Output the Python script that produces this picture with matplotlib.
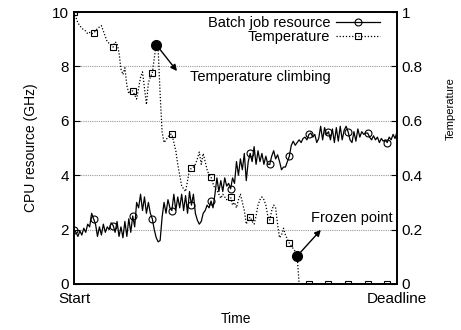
import matplotlib
matplotlib.use("Agg")
import matplotlib.pyplot as plt

plt.rcParams['font.family'] = ['Liberation Sans', 'DejaVu Sans']
plt.rcParams['font.size'] = 10.5

# batch job CPU resource (GHz), one sample per time step
batch = [2.0, 1.9, 1.75, 1.95, 1.8, 2.05, 1.9, 2.2, 2.1, 2.6,
         2.4, 2.2, 1.75, 2.1, 1.8, 2.2, 1.9, 2.1, 2.0, 2.25,
         2.15, 1.9, 2.3, 1.75, 2.1, 1.7, 2.3, 1.75, 2.4, 1.9,
         2.5, 2.1, 3.0, 2.8, 3.3, 2.7, 3.2, 2.6, 3.0, 2.6,
         2.4, 2.0, 1.7, 1.55, 1.6, 2.45, 3.0, 2.6, 3.1, 2.8,
         2.7, 3.3, 2.7, 3.2, 2.8, 3.3, 2.7, 3.25, 2.6, 3.4,
         2.9, 3.3, 2.6, 2.35, 2.2, 2.3, 2.6, 2.7, 2.9, 2.8,
         3.05, 2.8, 3.3, 3.9, 3.4, 3.8, 3.4, 3.9, 3.6, 3.7,
         3.5, 3.9, 3.7, 4.5, 4.0, 4.6, 4.2, 4.8, 3.8, 4.5,
         4.8, 4.5, 5.05, 4.4, 4.9, 4.5, 4.8, 4.4, 4.7, 4.4,
         4.4, 4.7, 4.9, 4.6, 4.75, 4.5, 4.2, 4.3, 4.3, 4.5,
         4.7, 5.1, 5.25, 5.1, 5.2, 5.3, 5.2, 5.35, 5.4, 5.3,
         5.5, 5.55, 5.4, 5.5, 5.2, 5.35, 5.8, 5.3, 5.75, 5.5,
         5.6, 5.3, 5.7, 5.2, 5.75, 5.25, 5.8, 5.3, 5.65, 5.8,
         5.6, 5.3, 5.2, 5.6, 5.25, 5.7, 5.4, 5.6, 5.5, 5.55,
         5.55, 5.4, 5.3, 5.45, 5.3, 5.4, 5.2, 5.35, 5.25, 5.3,
         5.2, 5.4, 5.3, 5.5, 5.35, 5.6]

# temperature (0..1)
temp = [1.0, 0.98, 0.96, 0.95, 0.94, 0.935, 0.93, 0.92, 0.925, 0.92,
        0.923, 0.93, 0.94, 0.945, 0.95, 0.93, 0.91, 0.89, 0.885, 0.88,
        0.871, 0.89, 0.885, 0.85, 0.79, 0.77, 0.795, 0.73, 0.70, 0.71,
        0.71, 0.695, 0.68, 0.72, 0.76, 0.78, 0.72, 0.66, 0.74, 0.76,
        0.775, 0.83, 0.88, 0.86, 0.70, 0.56, 0.52, 0.53, 0.54, 0.55,
        0.551, 0.52, 0.49, 0.44, 0.40, 0.36, 0.35, 0.34, 0.38, 0.42,
        0.425, 0.43, 0.44, 0.46, 0.485, 0.44, 0.48, 0.45, 0.42, 0.40,
        0.393, 0.37, 0.35, 0.345, 0.33, 0.315, 0.33, 0.32, 0.31, 0.32,
        0.32, 0.29, 0.30, 0.28, 0.31, 0.33, 0.30, 0.27, 0.22, 0.24,
        0.246, 0.23, 0.22, 0.25, 0.29, 0.31, 0.32, 0.31, 0.29, 0.25,
        0.235, 0.27, 0.29, 0.28, 0.22, 0.17, 0.18, 0.205, 0.18, 0.165,
        0.15, 0.14, 0.13, 0.12, 0.103, 0.0, 0.0, 0.0, 0.0, 0.0] + [0.0] * 46

t = list(range(len(batch)))
climb_idx = 42
frozen_idx = 114

fig = plt.figure(figsize=(4.61, 3.30), dpi=100)
ax = fig.add_axes([0.1605, 0.1394, 0.7007, 0.8242])
ax2 = ax.twinx()

l1, = ax.plot(t, batch, color='k', lw=0.9, marker='o', markevery=10, ms=5,
              mfc='none', mec='k', mew=0.8, label='Batch job resource')
l2, = ax2.plot(t, temp, color='k', lw=0.9, ls=(0, (1, 1.5)), marker='s',
               markevery=10, ms=5, mfc='none', mec='k', mew=0.8,
               label='Temperature')

ax.set_xlim(0, len(t) - 1)
ax.set_ylim(0, 10)
ax2.set_ylim(0, 1)
ax.set_yticks([0, 2, 4, 6, 8, 10])
ax2.set_yticks([0, 0.2, 0.4, 0.6, 0.8, 1])
ax2.set_yticklabels(['0', '0.2', '0.4', '0.6', '0.8', '1'])
ax.set_xticks([0, len(t) - 1])
ax.set_xticklabels(['Start', 'Deadline'])
ax.yaxis.grid(True, ls=(0, (1, 1)), color='#999999', lw=0.8)
ax.tick_params(direction='in', length=4, labelsize=11)
ax2.tick_params(direction='in', length=4, labelsize=11)
ax.tick_params(axis='x', length=0, pad=6)
for a in (ax, ax2):
    for s in a.spines.values():
        s.set_linewidth(1.2)

ax.set_xlabel('Time', fontsize=10)
ax.set_ylabel('CPU resource (GHz)', fontsize=10, labelpad=10)
fig.text(0.968, 0.67, 'Temperature', rotation=90, fontsize=8, ha='left', va='center')

# annotations
ax2.plot([climb_idx, frozen_idx], [temp[climb_idx], temp[frozen_idx]], 'o',
         color='k', ms=7)
ax2.annotate('', xy=(52.6, 0.783), xytext=(climb_idx, temp[climb_idx]),
             arrowprops=dict(arrowstyle='-|>', color='k', lw=1,
                             shrinkA=4, shrinkB=0, mutation_scale=9))
ax2.text(59.2, 0.761, 'Temperature climbing', va='center', ha='left')
ax2.annotate('', xy=(126.1, 0.199), xytext=(frozen_idx, temp[frozen_idx]),
             arrowprops=dict(arrowstyle='-|>', color='k', lw=1,
                             shrinkA=4, shrinkB=0, mutation_scale=9))
ax2.text(121, 0.243, 'Frozen point', va='center', ha='left')

ax.legend([l1, l2], ['Batch job resource', 'Temperature'], loc='upper right',
          bbox_to_anchor=(0.947, 0.985), markerfirst=False, frameon=False,
          borderpad=0, borderaxespad=0, handlelength=3.0, handletextpad=0.4,
          labelspacing=0.0)

plt.savefig('out.png', dpi=100)
